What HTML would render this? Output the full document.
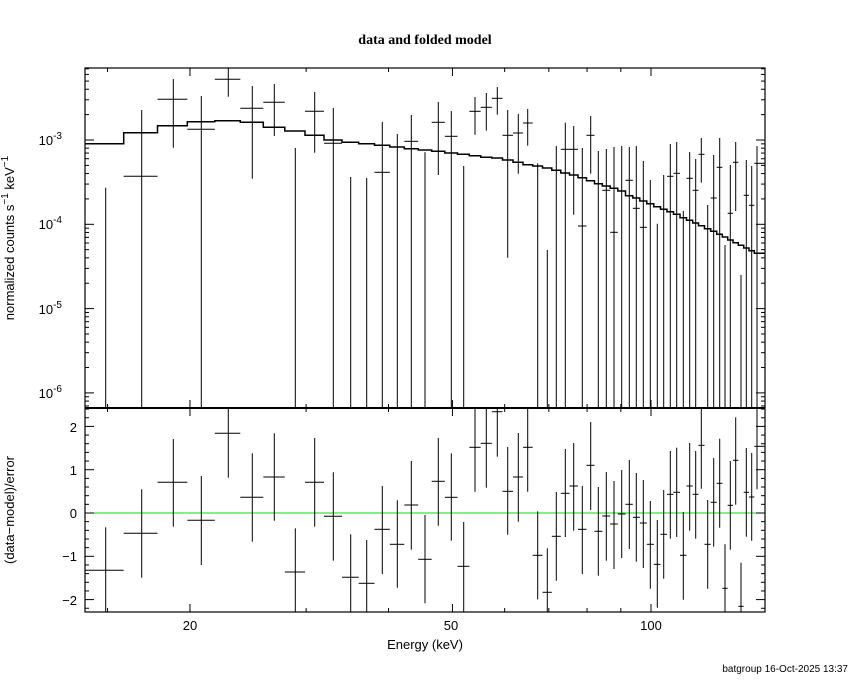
<!DOCTYPE html>
<html><head><meta charset="utf-8"><style>
html,body{margin:0;padding:0;background:#fff;}
svg{display:block;font-family:"Liberation Sans",sans-serif;}
</style></head><body>
<svg id="s" width="850" height="680" xmlns="http://www.w3.org/2000/svg"></svg>
<script>
var s=document.getElementById('s');var out='';
function L(x1,y1,x2,y2,w,c){out+='<line x1="'+x1+'" y1="'+y1+'" x2="'+x2+'" y2="'+y2+'" stroke="'+(c||'#000')+'" stroke-width="'+(w||1)+'"/>';}
var X0=85,X1=765,T0=68,T1=408,B1=612;
var zx=[62,170,265,349,430,502,568,631,689,745,797,845,892,937,979];
var cx=zx.map(function(v){return 85+v/3;});
cx.push(425);
var z4=[40,79,116,150,184,217,248,280,308,338,367,394,421,446,472,497,520,544,567,590,613,634,655,676,697,716,736,755,775,794,812,829,848,866,884,900,916,932,948,964,980,996];
z4.forEach(function(v){cx.push(425+v/3);});
var n=cx.length;var ed=[X0];
for(var i=0;i<n-1;i++)ed.push((cx[i]+cx[i+1])/2);ed.push(X1);
var r3=[[496,367,620],[385,253,518],[232,102,365],[346,213,480],[85,10,218],[277,145,410],[216,85,347],[501,370,620],[232,99,365],[334,202,467],[517,388,620],[535,405,620],[373,243,507],[418,286,548],[300,168,434],[463,330,595]];
var r4=[[229,99,362],[277,145,407],[484,351,620],[127,10,260],[115,10,248],[20,10,155],[259,126,389],[216,84,350],[127,10,260],[451,319,583],[562,430,620],[394,261,527],[265,132,396],[243,114,377],[373,243,507],[181,51,315],[379,246,512],[333,201,467],[357,228,492],[327,195,459],[298,165,432],[337,204,470],[354,225,489],[418,288,551],[478,345,608],[388,255,521],[268,138,401],[262,128,396],[451,321,584],[243,114,377],[268,138,401],[121,10,251],[418,285,551],[292,159,425],[235,101,368],[550,418,620],[301,168,434],[166,37,299],[604,473,620],[262,129,395],[276,144,407],[124,10,253]];
var R=r3.concat(r4);
var tp=[[null,383,'b'],[349,150,'b'],[118,57,263],[208,108,'b'],[58,25,110],[145,78,356],[127,72,228],[null,264,'b'],[154,96,278],[250,144,'b'],[null,351,'b'],[null,354,'b'],[337,186,'b'],[null,222,'b'],[244,165,'b'],[null,277,'b'],
[187,126,345],[229,153,'b'],[null,318,'b'],[154,111,224],[142,99,212],[115,81,164],[226,150,593],[219,162,341],[189,147,257],[null,310,'b'],[null,570,'b'],[null,258,'b'],[268,188,'b'],[268,198,464],[498,264,'b'],[226,168,341],[null,273,'b'],[391,267,'b'],[517,261,'b'],[null,258,'b'],[361,261,'b'],[445,258,'b'],[502,303,'b'],[null,360,'b'],[null,491,'b'],[null,345,'b'],[349,252,'b'],[340,246,'b'],[null,453,'b'],[355,276,'b'],[391,297,'b'],[283,234,368],[null,435,'b'],[414,285,'b'],[322,234,'b'],[null,555,'b'],[460,315,'b'],[307,246,453],[null,645,'b'],[406,300,'b'],[436,318,'b'],[310,258,'b']];
var md=[251,218,197,185,182,187,202,213,226,240,247,251,256,261,266,270,274,279,283,287,292,294,300,307,314,318,324,331,339,345,353,362,371,378,385,393,407,414,423,431,440,448,455,463,473,481,489,497,506,514,523,531,540,548,556,564,572,580];
function cl(v,a,b){return Math.max(a,Math.min(b,v));}
L(X0,513,X1,513,1,'#00e000');
for(var i=0;i<n;i++){
 var x=cx[i].toFixed(1);
 var r=R[i];var y=405+r[0]/3;
 if(y>=T1&&y<=B1)L(ed[i],y.toFixed(1),ed[i+1],y.toFixed(1),1);
 L(x,cl(405+r[1]/3,T1,B1).toFixed(1),x,cl(405+r[2]/3,T1,B1).toFixed(1),1);
 var t=tp[i];
 if(t[0]!==null){var yy=60+t[0]/3;L(ed[i],yy.toFixed(1),ed[i+1],yy.toFixed(1),1);}
 var y2=t[2]==='b'?T1:60+t[2]/3;
 L(x,cl(60+t[1]/3,T0,T1).toFixed(1),x,cl(y2,T0,T1).toFixed(1),1);
}
var p='M'+X0+' '+(60+md[0]/3).toFixed(1);
for(var i=0;i<n;i++){var y=(60+md[i]/3).toFixed(1);p+=' L'+ed[i].toFixed(1)+' '+y+' L'+ed[i+1].toFixed(1)+' '+y;}
out+='<path d="'+p+'" fill="none" stroke="#000" stroke-width="1.5"/>';
out+='<rect x="85" y="68" width="680" height="544" fill="none" stroke="#000" stroke-width="1.2"/>';
L(X0,T1,X1,T1,2);
function xp(e){return 651+Math.log10(e/100)*659.6;}
var xt=[15,20,30,40,50,60,70,80,90,100,150];
xt.forEach(function(e){var x=xp(e);if(x<X0||x>X1)return;var big=(e==20||e==50||e==100);var l=big?8:4;
 L(x,T0,x,T0+l);L(x,T1,x,T1-l);L(x,T1,x,T1+l);L(x,B1,x,B1-l);});
function yp(v){return 140-(Math.log10(v)+3)*84.3;}
for(var d=-7;d<=-2;d++)for(var m=1;m<10;m++){var y=yp(m*Math.pow(10,d));if(y<T0||y>T1)continue;var l=m==1?9:4;L(X0,y,X0+l,y);L(X1,y,X1-l,y);}
for(var k=-22;k<=24;k+=2){var v=k/10;var y=513-v*43.3;if(y<T1||y>B1)continue;var l=(k%10==0)?9:4;L(X0,y,X0+l,y);L(X1,y,X1-l,y);}
function T(x,y,t,a,sz,extra){out+='<text x="'+x+'" y="'+y+'" font-size="'+(sz||13)+'" text-anchor="'+(a||'middle')+'" '+(extra||'')+'>'+t+'</text>';}
[[-3,140],[-4,224],[-5,309],[-6,393]].forEach(function(q){out+='<text x="62" y="'+(q[1]+5)+'" font-size="13" text-anchor="end">10<tspan dy="-6" font-size="10">'+q[0]+'</tspan></text>';});
[[2,427],[1,470],[0,513],[-1,556],[-2,600]].forEach(function(q){T(77,q[1]+5,String(q[0]).replace('-','−'),'end');});
T(190,630,'20');T(451,630,'50');T(651,630,'100');
T(425,649,'Energy (keV)');
T(425,44,'data and folded model','middle',14,'font-family="Liberation Serif,serif" font-weight="bold"');
out+='<text transform="translate(14,238) rotate(-90)" font-size="13" text-anchor="middle">normalized counts s<tspan dy="-6" font-size="10">−1</tspan><tspan dy="6"> keV</tspan><tspan dy="-6" font-size="10">−1</tspan></text>';
out+='<text transform="translate(14,510) rotate(-90)" font-size="13" text-anchor="middle">(data−model)/error</text>';
T(848,672,'batgroup 16-Oct-2025 13:37','end',10);
s.innerHTML=out;
</script>
</body></html>
